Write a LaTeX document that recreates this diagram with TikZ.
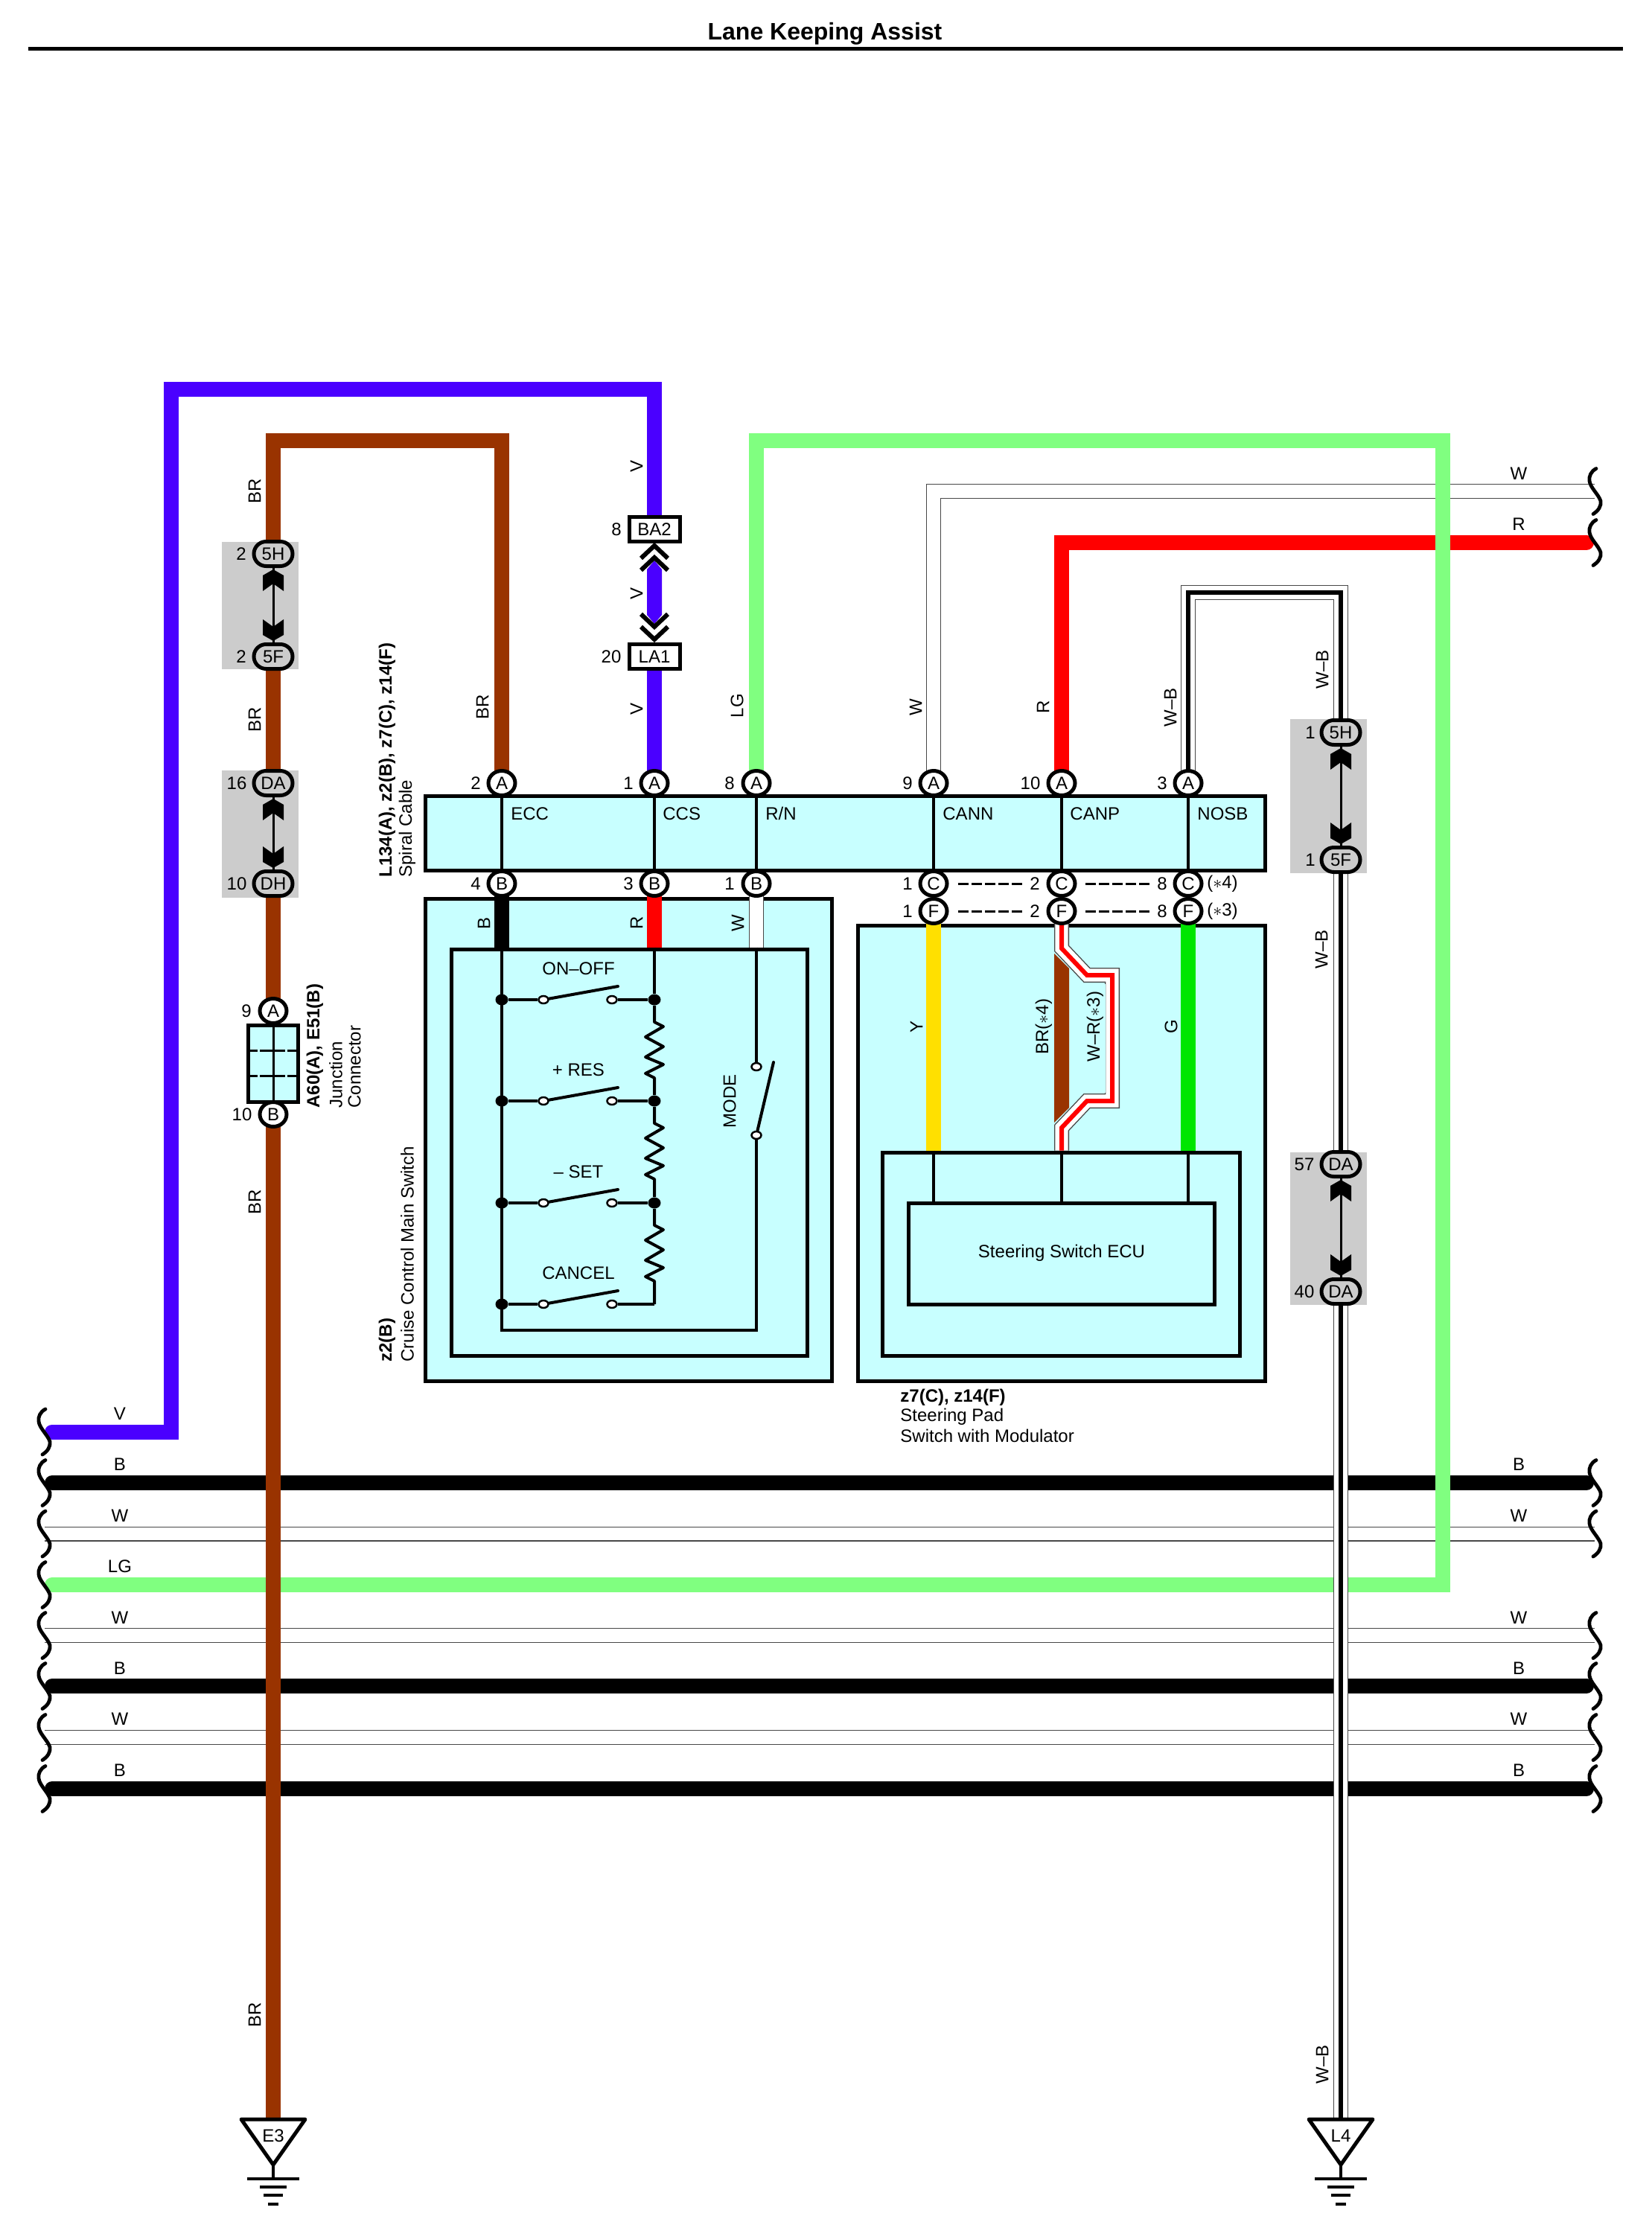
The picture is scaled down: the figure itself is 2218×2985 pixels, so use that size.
\documentclass[tikz,border=0pt]{standalone}
\usepackage{fontspec}
\setmainfont{Liberation Sans}
\usetikzlibrary{shapes.geometric,shapes.misc,fit,calc}
\definecolor{wV}{HTML}{4A00FF}
\definecolor{wBR}{HTML}{993300}
\definecolor{wLG}{HTML}{80FF80}
\definecolor{wR}{HTML}{FF0000}
\definecolor{wY}{HTML}{FFE000}
\definecolor{wG}{HTML}{00E600}
\definecolor{cy}{HTML}{C8FFFF}
\definecolor{gb}{HTML}{CCCCCC}
\definecolor{ed}{HTML}{484848}
\pgfdeclarelayer{back}
\pgfdeclarelayer{wires}
\pgfsetlayers{back,wires,main}
\tikzset{
  x=0.5pt,y=-0.5pt,
  every node/.style={font=\fontsize{12}{14}\selectfont,inner sep=0pt},
  boldlab/.style={font=\fontsize{12}{14}\selectfont\bfseries},
  vert/.style={rotate=90},
  vstart/.style={rotate=90,anchor=west},
  hstart/.style={anchor=west},
  thick wire/.style={line width=10pt,line join=miter},
  capwire/.style={line width=10pt,line join=miter,line cap=round},
  inwire/.style={line width=2pt,line join=miter},
  boxn/.style={draw,line width=2.5pt,fill=cy},
  graybox/.style={fill=gb},
  pin/.style={ellipse,draw,fill=white,line width=2.5pt,minimum width=18pt,minimum height=16.5pt},
  oval/.style={rounded rectangle,draw,fill=gb,line width=2.5pt,minimum width=26pt,minimum height=16.5pt},
  conn/.style={rectangle,draw,fill=white,line width=2.5pt,minimum width=34pt,minimum height=16.5pt},
  dotn/.style={ellipse,fill=black,minimum width=8.5pt,minimum height=7.5pt},
  swc/.style={ellipse,draw,fill=white,line width=1.25pt,minimum width=6.5pt,minimum height=5pt},
  blade/.style={line width=2pt,line cap=round},
  edgeline/.style={line width=10pt,draw=ed,line join=miter},
  whiteline/.style={line width=8.6pt,draw=white,line join=miter},
  corew/.style={line width=2.7pt,line join=miter},
  shaftline/.style={line width=1.5pt},
  bracecurve/.style={line width=2.4pt,line cap=round},
  dashline/.style={line width=1.5pt,dash pattern=on 7pt off 2pt},
  gndline/.style={line width=1.8pt},
}
\newcommand{\twire}[2]{%
  \draw[edgeline] #1;\draw[whiteline] #1;\draw[corew,draw=#2] #1;}
\newcommand{\whitewire}[1]{%
  \draw[edgeline] #1;\draw[whiteline] #1;}
\newcommand{\wavy}[2]{%
  \draw[bracecurve] ({#1+9},{#2-30.5}) .. controls ({#1+2},{#2-27}) and ({#1-1},{#2-20}) .. ({#1},{#2-14})
   .. controls ({#1+1},{#2-5}) and ({#1+12},{#2+4}) .. ({#1+15},{#2+13})
   .. controls ({#1+16},{#2+20}) and ({#1+12},{#2+26}) .. ({#1+5},{#2+30.5});}
\newcommand{\hshaft}[2]{%
  \draw[shaftline] (#1.south) -- (#2.north);
  \fill ($(#1.south)+(0,2)$) -- ++(14,8) -- ++(0,21) -- ++(-14,-10) -- ++(-14,10) -- ++(0,-21) -- cycle;
  \fill ($(#2.north)+(0,-2)$) -- ++(14,-8) -- ++(0,-21) -- ++(-14,10) -- ++(-14,-10) -- ++(0,21) -- cycle;}
\newcommand{\grd}[3]{%
  \coordinate (#3) at (#1,2847);
  \draw[line width=2.5pt,line join=round] (#3) ++(-43,0) -- ++(86,0) -- ++(-43,61) -- cycle;
  \node (#3t) at (#1,2869) {#2};
  \draw[gndline] (#1,2906) -- (#1,2927);
  \draw[gndline] ({#1-35},2927) -- ({#1+35},2927);
  \draw[gndline] ({#1-18},2938) -- ({#1+18},2938);
  \draw[gndline] ({#1-13},2949) -- ({#1+13},2949);
  \draw[gndline] ({#1-7},2961) -- ({#1+7},2961);}
\begin{document}
\begin{tikzpicture}
\useasboundingbox (0,0) rectangle (2218,2985);
% title
\node[font=\fontsize{16}{18}\selectfont\bfseries] (title) at (1108,45) {Lane Keeping Assist};
\draw[line width=2.5pt] (38,66) -- (2180,66);
% backgrounds
\begin{pgfonlayer}{back}
  \node[graybox,fit={(298,728)(401,899)}] (g1) {};
  \node[graybox,fit={(298,1035)(401,1206)}] (g2) {};
  \node[graybox,fit={(1733,966)(1836,1173)}] (g3) {};
  \node[graybox,fit={(1733,1548)(1836,1753)}] (g4) {};
  \node[boxn,fit={(571,1069)(1699,1169)}] (spiral) {};
  \node[boxn,fit={(571,1207)(1117,1855)}] (z2) {};
  \node[boxn,fit={(606,1275)(1084,1821)}] (z2i) {};
  \node[boxn,fit={(1152,1243)(1699,1855)}] (z7) {};
  \node[boxn,fit={(1185,1548)(1665,1821)}] (z7i) {};
  \node[boxn,fit={(1220,1616)(1631,1752)}] (ecu) {};
  \node[boxn,fit={(333,1377)(400,1480)}] (jc) {};
\end{pgfonlayer}
% pins row A
\node[pin] (a1) at (674,1052) {A};
\node[pin] (a2) at (879,1052) {A};
\node[pin] (a3) at (1016,1052) {A};
\node[pin] (a4) at (1254,1052) {A};
\node[pin] (a5) at (1426,1052) {A};
\node[pin] (a6) at (1596,1052) {A};
\node[pin] (b1) at (674,1187) {B};
\node[pin] (b2) at (879,1187) {B};
\node[pin] (b3) at (1016,1187) {B};
\node[pin] (c1) at (1254,1187) {C};
\node[pin] (c2) at (1426,1187) {C};
\node[pin] (c3) at (1596,1187) {C};
\node[pin] (f1) at (1254,1224) {F};
\node[pin] (f2) at (1426,1224) {F};
\node[pin] (f3) at (1596,1224) {F};
\foreach \x/\y/\t in {639/1052/2,844/1052/1,980/1052/8,1219/1052/9,1384/1052/10,1561/1052/3,
  639/1187/4,844/1187/3,980/1187/1,1219/1187/1,1390/1187/2,1561/1187/8,1219/1224/1,1390/1224/2,1561/1224/8,
  324/744/2,324/882/2,318/1052/16,318/1187/10,1760/984/1,1760/1155/1,1752/1564/57,1752/1735/40,331/1358/9,325/1497/10,828/711/8,821/882/20}
  \node at (\x,\y) {\t};
\node (st4) at (1642,1187) {($\ast$4)};
\node (st3) at (1642,1224) {($\ast$3)};
\draw[dashline] (1287,1187) -- (1373,1187);
\draw[dashline] (1458,1187) -- (1545,1187);
\draw[dashline] (1287,1224) -- (1373,1224);
\draw[dashline] (1458,1224) -- (1545,1224);
% signal names
\node[hstart] at (686,1093) {ECC};
\node[hstart] at (890,1093) {CCS};
\node[hstart] at (1028,1093) {R/N};
\node[hstart] at (1266,1093) {CANN};
\node[hstart] at (1437,1093) {CANP};
\node[hstart] at (1608,1093) {NOSB};
% ovals
\node[oval] (l5H) at (367,744) {5H};
\node[oval] (l5F) at (367,882) {5F};
\node[oval] (lDA) at (367,1052) {DA};
\node[oval] (lDH) at (367,1187) {DH};
\node[oval] (r5H) at (1801,984) {5H};
\node[oval] (r5F) at (1801,1155) {5F};
\node[oval] (rDA) at (1801,1564) {DA};
\node[oval] (rDB) at (1801,1735) {DA};
\hshaft{l5H}{l5F}
\hshaft{lDA}{lDH}
\hshaft{r5H}{r5F}
\hshaft{rDA}{rDB}
% BA2 / LA1
\node[conn] (ba2) at (879,711) {BA2};
\node[conn] (la1) at (879,882) {LA1};
\foreach \a in {733,749}
  \draw[line width=3pt,line cap=butt,line join=miter] (861,{\a+17}) -- (879,\a) -- (897,{\a+17});
\foreach \a in {842,859}
  \draw[line width=3pt,line cap=butt,line join=miter] (861,{\a-17}) -- (879,\a) -- (897,{\a-17});
% junction connector
\node[pin] (ja) at (367,1358) {A};
\node[pin] (jb) at (367,1497) {B};
\draw[line width=1.5pt] (ja.south) -- (jb.north);
\foreach \y in {1411,1445} {
  \draw[line width=1.5pt] (334,\y) -- (346,\y);
  \draw[line width=1.5pt] (349,\y) -- (383,\y);
  \draw[line width=1.5pt] (386,\y) -- (400,\y);
}
% ground
\grd{367}{E3}{gE}
\grd{1801}{L4}{gL}
% switches
\foreach \i/\y/\t in {1/1343/ON--OFF,2/1479/+ RES,3/1616/-- SET,4/1752/CANCEL} {
  \node[dotn] (dl\i) at (674,\y) {};
  \node[swc] (sa\i) at (730,\y) {};
  \node[swc] (sb\i) at (822,\y) {};
  \node (sl\i) at (777,{\y-42}) {\t};
  \draw[blade] (sa\i) -- (830,{\y-18});
  \draw[inwire] (dl\i) -- (sa\i);
}
\foreach \i/\y in {1/1343,2/1479,3/1616} {
  \node[dotn] (dr\i) at (879,\y) {};
  \draw[inwire] (sb\i) -- (dr\i);
}
\coordinate (dr4) at (879,1752);
\draw[inwire] (sb4) -- (dr4);
\foreach \i/\j/\y in {1/2/1343,2/3/1479,3/4/1616} {
  \draw[inwire,line join=round] (dr\i) -- (879,{\y+30}) -- (891,{\y+36}) -- (867,{\y+50}) -- (891,{\y+63}) -- (867,{\y+77}) -- (891,{\y+87}) -- (867,{\y+99}) -- (879,{\y+105}) -- (dr\j);
}
\node[swc] (mt) at (1016,1433) {};
\node[swc] (mb) at (1016,1525) {};
\draw[blade] (mb) -- (1039,1427);
\node[vert] (modeL) at (980,1479) {MODE};
\coordinate (zbl) at (674,1787);
\coordinate (zbr) at (1016,1787);
% ECU
\node (ecut) at (1426,1683) {Steering Switch ECU};
% wires
\begin{pgfonlayer}{wires}
  % cable rows
  \foreach \n/\y in {1/1992,2/2265,3/2403} {
    \coordinate (bl\n) at (70,\y);
    \coordinate (br\n) at (2131,\y);
    \draw[capwire] (bl\n) -- (br\n);
  }
  \foreach \n/\y in {1/2060.5,2/2197,3/2334} {
    \coordinate (wl\n) at (60,\y);
    \coordinate (wr\n) at (2142,\y);
    \whitewire{(wl\n) -- (wr\n)}
  }
  \coordinate (wtop) at (2142,660);
  \whitewire{(a4.center) -- (1254,660) -- (wtop)}
  \coordinate (rtop) at (2131,729);
  \draw[capwire,draw=wR] (a5.center) -- (1426,729) -- (rtop);
  % LG
  \coordinate (lgl) at (70,2129);
  \draw[capwire,draw=wLG] (a3.center) -- (1016,592) -- (1938,592) -- (1938,2129) -- (lgl);
  % V
  \coordinate (vl) at (70,1923.5);
  \draw[capwire,draw=wV] (vl) -- (230,1923.5) -- (230,523) -- (879,523) -- (ba2.center);
  \fill[wV] (869,765) -- (879,753) -- (889,765) -- (889,826) -- (879,838) -- (869,826) -- cycle;
  \draw[thick wire,draw=wV] (la1.center) -- (a2.center);
  % BR
  \draw[thick wire,draw=wBR] (a1.center) -- (674,592) -- (367,592) -- (l5H.center);
  \draw[thick wire,draw=wBR] (l5F.center) -- (lDA.center);
  \draw[thick wire,draw=wBR] (lDH.center) -- (ja.center);
  \draw[thick wire,draw=wBR] (jb.center) -- (gE);
  % W-B
  \twire{(a6.center) -- (1596,796) -- (1801,796) -- (r5H.center)}{black}
  \twire{(r5F.center) -- (rDA.center)}{black}
  \twire{(rDB.center) -- (gL)}{black}
  % inside spiral cable
  \foreach \p/\q in {a1/b1,a2/b2,a3/b3,a4/c1,a5/c2,a6/c3}
    \draw[inwire] (\p.center) -- (\q.center);
  % inside z2
  \draw[thick wire,draw=black] (b1.center) -- (z2i.north -| b1);
  \draw[thick wire,draw=wR] (b2.center) -- (z2i.north -| b2);
  \whitewire{(b3.center) -- (z2i.north -| b3)}
  \draw[inwire] (z2i.north -| b2) -- (dr1);
  \draw[inwire,line join=miter] (z2i.north -| b1) -- (zbl) -- (zbr) -- (mb);
  \draw[inwire] (z2i.north -| b3) -- (mt);
  % inside z7
  \draw[thick wire,draw=wY] (f1.center) -- (z7i.north -| f1);
  \draw[thick wire,draw=wG] (f3.center) -- (z7i.north -| f3);
  \fill[wBR] (1416,1281) -- (1436,1301) -- (1436,1488) -- (1416,1508) -- cycle;
  \draw[edgeline] (f2.center) -- (1426,1274) -- (1460,1310) -- (1494,1310) -- (1494,1479) -- (1460,1479) -- (1426,1515) -- (z7i.north -| f2);
  \draw[whiteline] (f2.center) -- (1426,1274) -- (1460,1310) -- (1494,1310) -- (1494,1479) -- (1460,1479) -- (1426,1515) -- (z7i.north -| f2);
  \draw[line width=3pt,draw=wR,line join=miter] (f2.center) -- (1426,1274) -- (1460,1310) -- (1494,1310) -- (1494,1479) -- (1460,1479) -- (1426,1515) -- (z7i.north -| f2);
  \fill[cy] (1437,1305) -- (1456,1322) -- (1485,1322) -- (1485,1468) -- (1456,1468) -- (1437,1486) -- cycle;
  \draw[inwire] (z7i.north -| f1) -- (ecu.north -| f1);
  \draw[inwire] (z7i.north -| f2) -- (ecu.north -| f2);
  \draw[inwire] (z7i.north -| f3) -- (ecu.north -| f3);
\end{pgfonlayer}
% braces
\foreach \y in {1923.5,1992,2060.5,2129,2197,2265,2334,2403} { \wavy{52}{\y} }
\foreach \y in {660,729,1992,2060.5,2197,2265,2334,2403} { \wavy{2135}{\y} }
% row labels
\foreach \y/\t in {1899/V,1967.5/B,2036/W,2104.5/LG,2173/W,2241/B,2309/W,2378/B}
  \node at (161,\y) {\t};
\foreach \y/\t in {636/W,704/R,1967.5/B,2036/W,2173/W,2241/B,2309/W,2378/B}
  \node at (2040,\y) {\t};
% wire labels
\foreach \x/\y/\t in {342/660/BR,342/967/BR,342/1615/BR,342/2707/BR,648/950/BR,855/626/V,855/797/V,855/952/V,
  990/948/LG,1230/950/W,1401/950/R,1572/950/W--B,1776/899/W--B,1775/1275/W--B,1776/2773/W--B,
  650/1240/B,855/1240/R,991/1240/W,1231/1379/Y,1573/1379/G}
  \node[vert] at (\x,\y) {\t};
\node[vert] at (1402,1379) {BR($\ast$4)};
\node[vert] at (1471,1379) {W--R($\ast$3)};
% component titles
\node[vstart,boldlab] at (520,1179) {L134(A), z2(B), z7(C), z14(F)};
\node[vstart] at (547,1179) {Spiral Cable};
\node[vstart,boldlab] at (520,1830) {z2(B)};
\node[vstart] at (547,1830) {Cruise Control Main Switch};
\node[vstart,boldlab] at (423,1489) {A60(A), E51(B)};
\node[vstart] at (451,1489) {Junction};
\node[vstart] at (476,1489) {Connector};
\node[hstart,boldlab] at (1209,1877) {z7(C), z14(F)};
\node[hstart] at (1209,1903) {Steering Pad};
\node[hstart] at (1209,1929) {Switch with Modulator};
\end{tikzpicture}
\end{document}
